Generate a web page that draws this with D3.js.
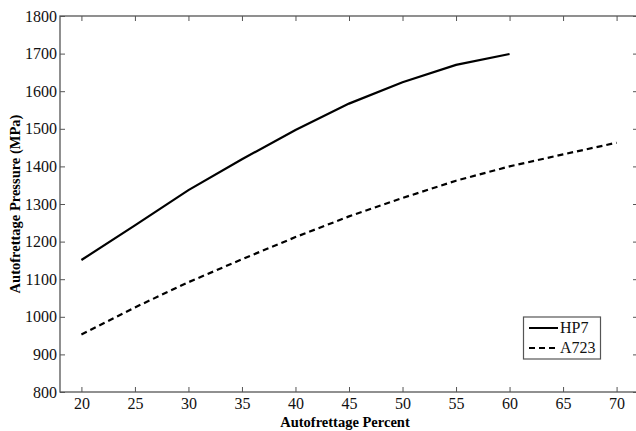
<!DOCTYPE html>
<html><head><meta charset="utf-8">
<script src="https://cdn.jsdelivr.net/npm/d3@7"></script>
<style>body{margin:0;background:#fff}svg{display:block}</style>
</head><body>
<svg id="c" width="636" height="431"></svg>
<script>
const percentHP7 = [20,25,30,35,40,45,50,55,60];
const pressureHP7 = [1151,1243,1337,1419,1497,1567,1624,1670,1699];
const percentA723 = [20,25,30,35,40,45,50,55,60,65,70];
const pressureA723 = [953,1025,1092,1153,1212,1267,1316,1362,1400,1432,1463];
const xTicks = [20,25,30,35,40,45,50,55,60,65,70];
const yTicks = [800,900,1000,1100,1200,1300,1400,1500,1600,1700,1800];
const seriesNames = ["HP7","A723"];

const svg = d3.select("#c");
const L=60, R=638, T=16, B=392;
const x = d3.scaleLinear().domain([18,72]).range([L,R]);
const y = d3.scaleLinear().domain([800,1800]).range([B,T]);
const font = "'Liberation Serif', 'Times New Roman', serif";
const axisCol = "#555";
const fmt = d3.format("d");

// frame
svg.append("rect").attr("x",L).attr("y",T).attr("width",R-L).attr("height",B-T)
  .attr("fill","none").attr("stroke",axisCol).attr("stroke-width",1.3);

function styleAxis(g){
  g.attr("font-family",font).attr("font-size",16);
  g.select(".domain").remove();
  g.selectAll(".tick line").attr("stroke",axisCol).attr("stroke-width",1);
  g.selectAll(".tick text").attr("fill","#111");
}
// bottom
svg.append("g").attr("transform",`translate(0,${B})`)
  .call(d3.axisBottom(x).tickValues(xTicks).tickFormat(fmt).tickSizeInner(-5).tickSizeOuter(0).tickPadding(6))
  .call(styleAxis);
// top
svg.append("g").attr("transform",`translate(0,${T})`)
  .call(d3.axisTop(x).tickValues(xTicks).tickSizeInner(-5).tickSizeOuter(0).tickFormat(""))
  .call(styleAxis);
// left
svg.append("g").attr("transform",`translate(${L},0)`)
  .call(d3.axisLeft(y).tickValues(yTicks).tickFormat(fmt).tickSizeInner(-5).tickSizeOuter(0).tickPadding(3))
  .call(styleAxis);
// right
svg.append("g").attr("transform",`translate(${R},0)`)
  .call(d3.axisRight(y).tickValues(yTicks).tickSizeInner(-5).tickSizeOuter(0).tickFormat(""))
  .call(styleAxis);

const line = d3.line().x(d=>x(d[0])).y(d=>y(d[1]));
svg.append("path").datum(percentHP7.map((p,i)=>[p,pressureHP7[i]]))
  .attr("d",line).attr("fill","none").attr("stroke","#000").attr("stroke-width",2.2);
svg.append("path").datum(percentA723.map((p,i)=>[p,pressureA723[i]]))
  .attr("d",line).attr("fill","none").attr("stroke","#000").attr("stroke-width",2.2)
  .attr("stroke-dasharray","6,4");

// axis titles
svg.append("text").attr("x",345).attr("y",427).attr("text-anchor","middle")
  .attr("font-family",font).attr("font-size",14.5).attr("font-weight","bold")
  .text("Autofrettage Percent");
svg.append("text").attr("transform",`translate(20,${(T+B)/2}) rotate(-90)`).attr("text-anchor","middle")
  .attr("font-family",font).attr("font-size",14.5).attr("font-weight","bold")
  .text("Autofrettage Pressure (MPa)");

// legend
const lg = svg.append("g");
lg.append("rect").attr("x",523.5).attr("y",317).attr("width",77).attr("height",42)
  .attr("fill","#fff").attr("stroke",axisCol).attr("stroke-width",1.2);
seriesNames.forEach((n,i)=>{
  const yy = 328 + i*20;
  lg.append("line").attr("x1",529).attr("x2",558).attr("y1",yy).attr("y2",yy)
    .attr("stroke","#000").attr("stroke-width",2)
    .attr("stroke-dasharray", i===1 ? "6,4" : null);
  lg.append("text").attr("x",560).attr("y",yy+5).attr("font-family",font).attr("font-size",16)
    .attr("fill","#111").text(n);
});
</script>
</body></html>
